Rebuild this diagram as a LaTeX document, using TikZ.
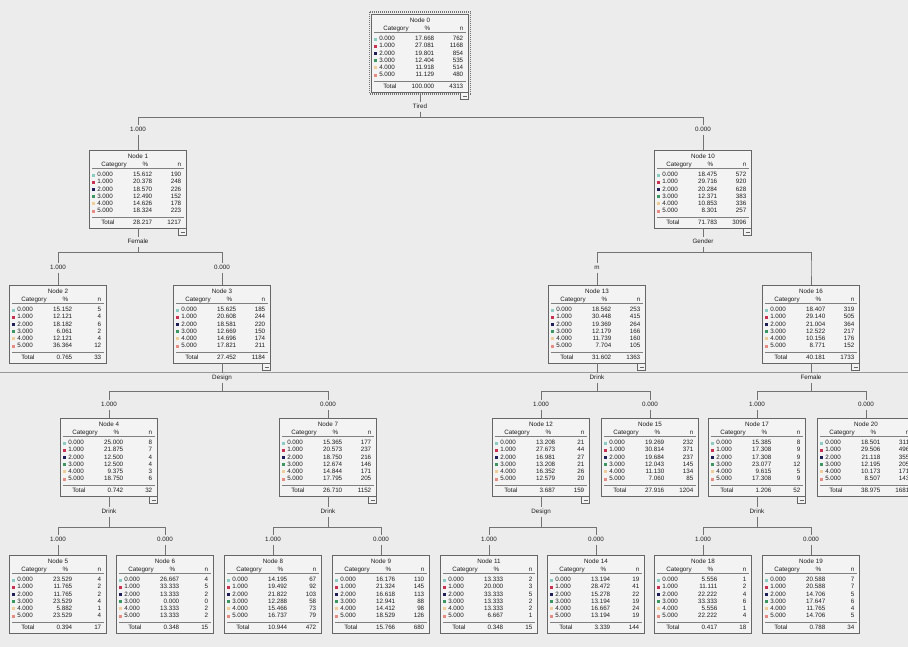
\documentclass[tikz,border=0pt]{standalone}
\usepackage{fontspec}
\setmainfont{Liberation Sans}
\newcommand{\tfont}{\fontsize{4.7}{5.2}\selectfont}
\definecolor{bg}{RGB}{236,236,236}
\definecolor{boxfill}{RGB}{243,243,243}
\definecolor{c0}{RGB}{140,205,195}
\definecolor{c1}{RGB}{200,50,80}
\definecolor{c2}{RGB}{30,30,90}
\definecolor{c3}{RGB}{60,150,95}
\definecolor{c4}{RGB}{240,205,150}
\definecolor{c5}{RGB}{230,140,130}
\tikzset{
  tbox/.style={draw=black!60, fill=boxfill, line width=0.5pt, minimum width=72.75pt, minimum height=58.5pt, inner sep=0pt},
  ttxt/.style={font=\tfont, inner sep=0pt, text=black!88, text height=3.4pt, text depth=0.9pt},
  lbl/.style={font=\tfont, inner sep=1.2pt, text=black!88, text height=3.4pt, text depth=0.9pt},
  conn/.style={draw=black!55, line width=0.5pt},
  hline/.style={draw=black!50, line width=0.3pt},
  cbox/.style={draw=black!60, fill=boxfill, line width=0.4pt, minimum width=6pt, minimum height=5.25pt, inner sep=0pt, anchor=north east},
  sepline/.style={draw=black!40, line width=0.5pt},
  selb/.style={draw=black!55, line width=1.1pt, dash pattern=on 0.6pt off 0.9pt}
}
% #1 name, #2 centre x, #3 top y, #4 number, #5 rows, #6 total %, #7 total n
\newcommand{\tnode}[7]{%
  \node[tbox] (#1) at (#2,#3+39) {};
  \node[ttxt] (#1-t) at (#2,#3+7) {Node #4};
  \node[ttxt,anchor=west] (#1-hc) at (#2-37,#3+14.5) {Category};
  \node[ttxt] (#1-hp) at (#2+7.5,#3+14.5) {\%};
  \node[ttxt,anchor=east] (#1-hn) at (#2+43.5,#3+14.5) {n};
  \draw[hline] (#2-46,#3+18.5) -- (#2+46,#3+18.5);
  \foreach \vp/\vn [count=\i from 0] in {#5}{%
    \fill[fill=c\i] (#2-46,#3+23.5+7.2*\i) rectangle ++(3,3);
    \node[ttxt,anchor=west] (#1-c\i) at (#2-41,#3+25+7.2*\i) {\i.000};
    \node[ttxt,anchor=east] (#1-p\i) at (#2+14.5,#3+25+7.2*\i) {\vp};
    \node[ttxt,anchor=east] (#1-n\i) at (#2+43.5,#3+25+7.2*\i) {\vn};
  }
  \draw[hline] (#2-46,#3+67) -- (#2+46,#3+67);
  \node[ttxt,anchor=west] (#1-tl) at (#2-37,#3+73) {Total};
  \node[ttxt,anchor=east] (#1-tp) at (#2+14.5,#3+73) {#6};
  \node[ttxt,anchor=east] (#1-tn) at (#2+43.5,#3+73) {#7};
}
% collapse square
\newcommand{\tcol}[1]{%
  \node[cbox] (#1-x) at (#1.south east) {};
  \draw[black!60, line width=0.4pt] ([xshift=-1.5pt]#1-x.center) -- ([xshift=1.5pt]#1-x.center);
}
% #1 parent, #2 x, #3 label y, #4 label, #5 bar y
\newcommand{\tsplit}[5]{%
  \node[lbl] (#1-s) at (#2,#3) {#4};
  \coordinate (#1-b) at (#2,#5);
  \draw[conn] (#1) -- (#1-s);
  \draw[conn] (#1-s) -- (#1-b);
}
% #1 parent, #2 child, #3 x, #4 label y, #5 label
\newcommand{\tchild}[5]{%
  \node[lbl] (#2-l) at (#3,#4) {#5};
  \draw[conn] (#1-b) -- (#1-b -| #2-l) -- (#2-l);
  \draw[conn] (#2-l) -- (#2);
}
\begin{document}
\begin{tikzpicture}[x=0.75pt,y=-0.75pt]
\useasboundingbox (0,0) rectangle (908,647);
\fill[bg] (0,0) rectangle (908,647);
\draw[sepline] (0,372) -- (908,372);

% level 0
\tnode{n0}{420}{14}{0}{17.668/762,27.081/1168,19.801/854,12.404/535,11.918/514,11.129/480}{100.000}{4313}
\draw[selb] ([shift={(-1.5,-1.5)}]n0.north west) rectangle ([shift={(1.5,1.5)}]n0.south east);
\tcol{n0}
% level 1
\tnode{n1}{138}{150}{1}{15.612/190,20.378/248,18.570/226,12.490/152,14.626/178,18.324/223}{28.217}{1217}
\tcol{n1}
\tnode{n10}{703}{150}{10}{18.475/572,29.716/920,20.284/628,12.371/383,10.853/336,8.301/257}{71.783}{3096}
\tcol{n10}
% level 2
\tnode{n2}{58}{285}{2}{15.152/5,12.121/4,18.182/6,6.061/2,12.121/4,36.364/12}{0.765}{33}
\tnode{n3}{222}{285}{3}{15.625/185,20.608/244,18.581/220,12.669/150,14.696/174,17.821/211}{27.452}{1184}
\tcol{n3}
\tnode{n13}{597}{285}{13}{18.562/253,30.448/415,19.369/264,12.179/166,11.739/160,7.704/105}{31.602}{1363}
\tcol{n13}
\tnode{n16}{811}{285}{16}{18.407/319,29.140/505,21.004/364,12.522/217,10.156/176,8.771/152}{40.181}{1733}
\tcol{n16}
% level 3
\tnode{n4}{109}{418}{4}{25.000/8,21.875/7,12.500/4,12.500/4,9.375/3,18.750/6}{0.742}{32}
\tcol{n4}
\tnode{n7}{328}{418}{7}{15.365/177,20.573/237,18.750/216,12.674/146,14.844/171,17.795/205}{26.710}{1152}
\tcol{n7}
\tnode{n12}{541}{418}{12}{13.208/21,27.673/44,16.981/27,13.208/21,16.352/26,12.579/20}{3.687}{159}
\tcol{n12}
\tnode{n15}{650}{418}{15}{19.269/232,30.814/371,19.684/237,12.043/145,11.130/134,7.060/85}{27.916}{1204}
\tnode{n17}{757}{418}{17}{15.385/8,17.308/9,17.308/9,23.077/12,9.615/5,17.308/9}{1.206}{52}
\tcol{n17}
\tnode{n20}{866}{418}{20}{18.501/311,29.506/496,21.118/355,12.195/205,10.173/171,8.507/143}{38.975}{1681}
% level 4
\tnode{n5}{58}{555}{5}{23.529/4,11.765/2,11.765/2,23.529/4,5.882/1,23.529/4}{0.394}{17}
\tnode{n6}{165}{555}{6}{26.667/4,33.333/5,13.333/2,0.000/0,13.333/2,13.333/2}{0.348}{15}
\tnode{n8}{273}{555}{8}{14.195/67,19.492/92,21.822/103,12.288/58,15.466/73,16.737/79}{10.944}{472}
\tnode{n9}{381}{555}{9}{16.176/110,21.324/145,16.618/113,12.941/88,14.412/98,18.529/126}{15.766}{680}
\tnode{n11}{489}{555}{11}{13.333/2,20.000/3,33.333/5,13.333/2,13.333/2,6.667/1}{0.348}{15}
\tnode{n14}{596}{555}{14}{13.194/19,28.472/41,15.278/22,13.194/19,16.667/24,13.194/19}{3.339}{144}
\tnode{n18}{703}{555}{18}{5.556/1,11.111/2,22.222/4,33.333/6,5.556/1,22.222/4}{0.417}{18}
\tnode{n19}{811}{555}{19}{20.588/7,20.588/7,14.706/5,17.647/6,11.765/4,14.706/5}{0.788}{34}

% connectors
\tsplit{n0}{420}{107}{Tired}{117}
\tchild{n0}{n1}{138}{130}{1.000}
\tchild{n0}{n10}{703}{130}{0.000}

\tsplit{n1}{138}{242}{Female}{252}
\tchild{n1}{n2}{58}{268}{1.000}
\tchild{n1}{n3}{222}{268}{0.000}

\tsplit{n10}{703}{242}{Gender}{252}
\tchild{n10}{n13}{597}{268}{m}
\coordinate (n16-l) at (811,268);
\draw[conn] (n10-b) -- (n10-b -| n16-l) -- (n16-l) -- (n16);

\tsplit{n3}{222}{378}{Design}{391}
\tchild{n3}{n4}{109}{405}{1.000}
\tchild{n3}{n7}{328}{405}{0.000}

\tsplit{n13}{597}{378}{Drink}{391}
\tchild{n13}{n12}{541}{405}{1.000}
\tchild{n13}{n15}{650}{405}{0.000}

\tsplit{n16}{811}{378}{Female}{391}
\tchild{n16}{n17}{757}{405}{1.000}
\tchild{n16}{n20}{866}{405}{0.000}

\tsplit{n4}{109}{512}{Drink}{527}
\tchild{n4}{n5}{58}{540}{1.000}
\tchild{n4}{n6}{165}{540}{0.000}

\tsplit{n7}{328}{512}{Drink}{527}
\tchild{n7}{n8}{273}{540}{1.000}
\tchild{n7}{n9}{381}{540}{0.000}

\tsplit{n12}{541}{512}{Design}{527}
\tchild{n12}{n11}{489}{540}{1.000}
\tchild{n12}{n14}{596}{540}{0.000}

\tsplit{n17}{757}{512}{Drink}{527}
\tchild{n17}{n18}{703}{540}{1.000}
\tchild{n17}{n19}{811}{540}{0.000}
\end{tikzpicture}
\end{document}
